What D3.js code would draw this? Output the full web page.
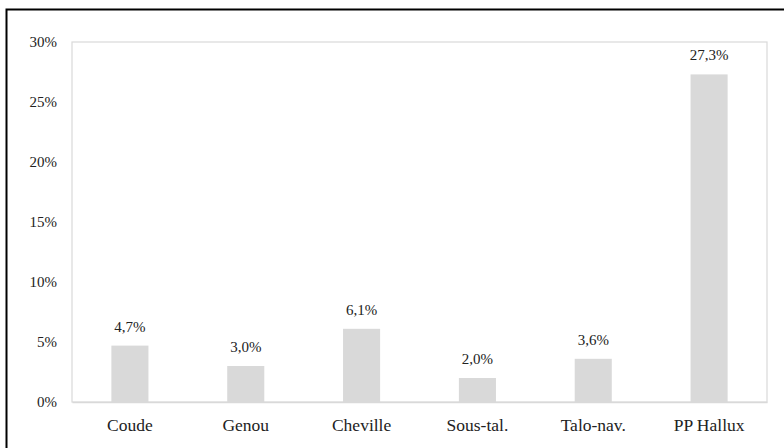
<!DOCTYPE html>
<html><head><meta charset="utf-8">
<script src="https://cdn.jsdelivr.net/npm/d3@7"></script>
</head><body style="margin:0">
<script>
const categories = ["Coude","Genou","Cheville","Sous-tal.","Talo-nav.","PP Hallux"];
const values = [4.7, 3.0, 6.1, 2.0, 3.6, 27.3];
const labels = ["4,7%","3,0%","6,1%","2,0%","3,6%","27,3%"];
const yTicks = [0,5,10,15,20,25,30];

const FONT = "Liberation Serif";
const W=784,H=448;
const svg=d3.select("body").append("svg").attr("width",W).attr("height",H).style("display","block")
  .attr("font-family",FONT);
svg.append("rect").attr("x",6.5).attr("y",9.5).attr("width",800).attr("height",500)
  .attr("fill","none").attr("stroke","#000").attr("stroke-width",2);

const m={l:72,r:767,t:42,b:402};
const x=d3.scaleBand().domain(categories).range([m.l,m.r]).padding(0);
const y=d3.scaleLinear().domain([0,30]).range([m.b,m.t]);

svg.append("rect").attr("x",m.l).attr("y",m.t).attr("width",m.r-m.l).attr("height",m.b-m.t)
  .attr("fill","none").attr("stroke","#d9d9d9").attr("stroke-width",1.2);

const bw=x.bandwidth()*0.32;
svg.selectAll(".bar").data(values).join("rect")
  .attr("x",(d,i)=>x(categories[i])+x.bandwidth()/2-bw/2)
  .attr("y",d=>y(d)).attr("width",bw).attr("height",d=>y(0)-y(d)).attr("fill","#d9d9d9");

svg.selectAll(".lab").data(values).join("text")
  .attr("x",(d,i)=>x(categories[i])+x.bandwidth()/2).attr("y",d=>y(d)-14)
  .attr("text-anchor","middle").attr("font-family",FONT).attr("font-size",15).attr("fill","#222")
  .text((d,i)=>labels[i]);

const ya=svg.append("g").attr("transform",`translate(${m.l},0)`)
  .call(d3.axisLeft(y).tickValues(yTicks).tickFormat(d=>d+"%").tickSize(0).tickPadding(15));
ya.attr("font-family",FONT).attr("font-size",15);
ya.select(".domain").remove();
ya.selectAll("text").attr("fill","#222").attr("dy","0.32em");

const xa=svg.append("g").attr("transform",`translate(0,${m.b})`)
  .call(d3.axisBottom(x).tickSize(0));
xa.attr("font-family",FONT).attr("font-size",17.5);
xa.select(".domain").attr("stroke","#d9d9d9").attr("stroke-width",1.5);
xa.selectAll("text").attr("fill","#222").attr("y",29).attr("dy","0");
</script>
</body></html>
